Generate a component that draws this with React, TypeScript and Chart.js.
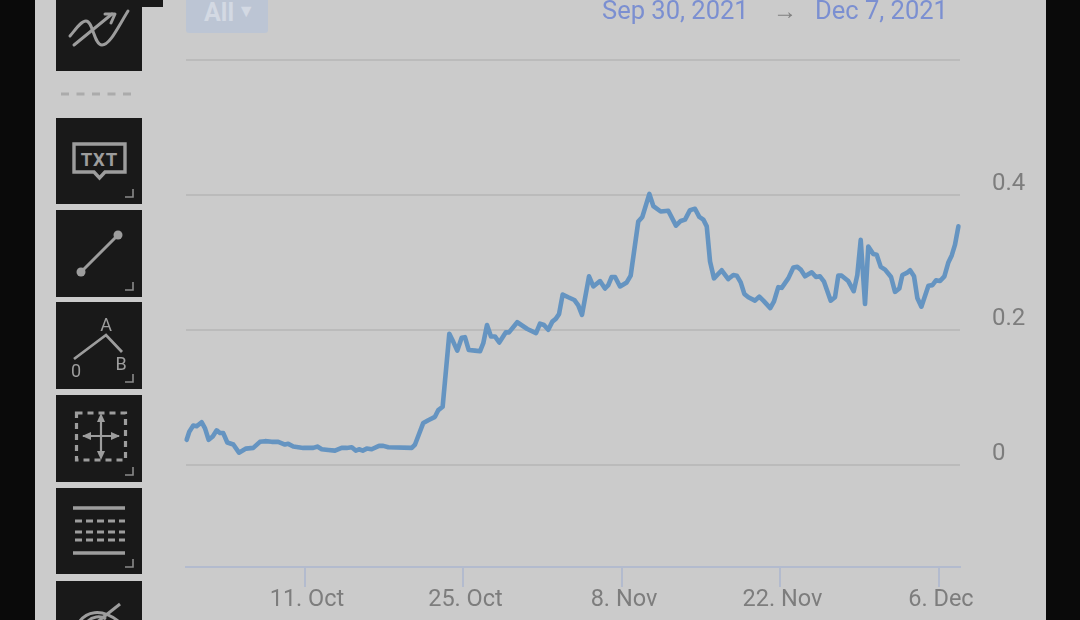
import React, { useEffect, useRef } from "react";
import { Chart, registerables } from "chart.js";

Chart.register(...registerables);

// x positions are days counted from 0 Oct 2021 (11 = 11 Oct, 39 = 8 Nov, 67 = 6 Dec)
const days = [0.55,0.78,1.13,1.43,1.87,2.17,2.49,2.85,3.2,3.49,3.78,4.14,4.67,5.17,5.79,6.43,7.02,7.47,8.06,8.64,9.23,9.52,9.97,10.85,11.73,12.09,12.48,13.06,13.65,14.24,14.68,15.13,15.48,15.77,16.1,16.45,16.89,17.54,17.92,18.36,20.43,20.72,21.45,21.89,22.48,22.78,23.16,23.75,24.1,24.45,24.84,25.13,25.46,26.02,26.46,26.75,27.08,27.43,27.78,28.16,28.73,29.02,29.75,30.64,31.41,31.76,32.11,32.49,32.85,33.15,33.44,33.76,34.26,34.79,35.14,35.47,36.09,36.47,37.06,37.5,37.79,38.09,38.39,38.83,39.42,39.77,40.44,40.8,41.42,41.77,42.42,43.09,43.77,44.19,44.57,45.01,45.45,45.83,46.19,46.49,46.78,47.13,47.81,48.39,48.84,49.14,49.49,49.81,50.17,50.75,51.13,51.49,52.1,52.43,52.81,53.11,53.69,54.14,54.49,54.79,55.17,55.76,56.14,56.49,56.85,57.44,57.82,58.11,58.41,58.99,59.47,59.79,60.09,60.47,60.76,61.2,61.5,61.86,62.24,62.77,63.12,63.5,63.77,64.16,64.45,64.8,65.09,65.45,66.07,66.42,66.74,67.1,67.48,67.84,68.13,68.42,68.72];
const prices = [0.037,0.049,0.058,0.057,0.063,0.054,0.037,0.042,0.051,0.047,0.047,0.033,0.03,0.018,0.024,0.025,0.034,0.035,0.034,0.034,0.03,0.031,0.027,0.025,0.025,0.027,0.023,0.022,0.021,0.025,0.025,0.026,0.021,0.023,0.021,0.024,0.023,0.028,0.028,0.026,0.025,0.03,0.062,0.066,0.071,0.081,0.086,0.194,0.182,0.169,0.188,0.189,0.17,0.169,0.168,0.18,0.207,0.19,0.19,0.181,0.196,0.196,0.211,0.201,0.195,0.209,0.207,0.2,0.212,0.216,0.223,0.252,0.248,0.244,0.236,0.222,0.279,0.264,0.272,0.261,0.266,0.278,0.278,0.264,0.27,0.28,0.36,0.367,0.401,0.383,0.375,0.376,0.354,0.361,0.363,0.377,0.379,0.367,0.363,0.353,0.301,0.276,0.288,0.275,0.281,0.28,0.27,0.253,0.248,0.243,0.249,0.243,0.232,0.242,0.263,0.262,0.276,0.292,0.293,0.289,0.279,0.285,0.278,0.279,0.271,0.243,0.248,0.28,0.28,0.272,0.257,0.281,0.333,0.238,0.323,0.312,0.311,0.293,0.289,0.278,0.256,0.261,0.281,0.284,0.288,0.279,0.247,0.234,0.265,0.266,0.273,0.272,0.279,0.3,0.31,0.326,0.353];
const xTickDays = [11, 25, 39, 53, 67];
const xTickLabels = ["11. Oct", "25. Oct", "8. Nov", "22. Nov", "6. Dec"];
const yTickValues = [0, 0.2, 0.4, 0.6];
const yTickLabels = ["0", "0.2", "0.4", ""];

const FONT = "Roboto, sans-serif";
const ICON = "#9d9d9d";

function Box({ top, height, children }: { top: number; height: number; children?: React.ReactNode }) {
  return (
    <svg width={86} height={height} viewBox={`0 0 86 ${height}`}
      style={{ position: "absolute", left: 56, top, background: "#191919", display: "block" }}>
      {children}
    </svg>
  );
}

const Corner = ({ h }: { h: number }) => (
  <path d={`M69 ${h - 7}H77V${h - 15}`} fill="none" stroke="#8a8a8a" strokeWidth={1.6} />
);

export default function App() {
  const ref = useRef<HTMLCanvasElement>(null);
  useEffect(() => {
    const chart = new Chart(ref.current!, {
      type: "line",
      data: {
        datasets: [{
          data: days.map((d, i) => ({ x: d, y: prices[i] })),
          borderColor: "#6594c1",
          borderWidth: 4.6,
          pointRadius: 0,
          tension: 0,
          borderJoinStyle: "round",
          borderCapStyle: "round",
          clip: false,
        }],
      },
      options: {
        animation: false,
        responsive: false,
        devicePixelRatio: 1,
        events: [],
        layout: { padding: { left: 186, top: 59.5, right: 0, bottom: 0 } },
        plugins: { legend: { display: false }, tooltip: { enabled: false } },
        scales: {
          x: {
            type: "linear",
            min: 0.49,
            max: 68.86,
            afterFit: (s: any) => { s.height = 53; },
            afterBuildTicks: (s: any) => { s.ticks = xTickDays.map((value) => ({ value })); },
            border: { color: "#b3bbce", width: 2 },
            grid: { drawOnChartArea: false, drawTicks: true, tickLength: 20, color: "#b3bbce", lineWidth: 2 },
            ticks: {
              color: "#7d7d7d", font: { family: FONT, size: 23.5 }, padding: -1, maxRotation: 0, autoSkip: false, labelOffset: 2,
              callback: (v: any) => xTickLabels[xTickDays.indexOf(v)] ?? "",
            },
          },
          y: {
            type: "linear",
            position: "right",
            min: -0.1513,
            max: 0.6,
            afterFit: (s: any) => { s.width = 120; },
            afterBuildTicks: (s: any) => { s.ticks = yTickValues.map((value) => ({ value })); },
            border: { display: false },
            grid: { drawTicks: false, color: "#bbbbbb", lineWidth: 2 },
            ticks: {
              color: "#7d7d7d", font: { family: FONT, size: 24 }, padding: 32, crossAlign: "near", labelOffset: -11,
              callback: (v: any) => yTickLabels[yTickValues.indexOf(v)] ?? "",
            },
          },
        },
      },
    });
    return () => chart.destroy();
  }, []);

  return (
    <div style={{ position: "fixed", inset: 0, width: 1080, height: 620, background: "#0a0a0a", overflow: "hidden", fontFamily: FONT }}>
      <div style={{ position: "absolute", left: 35, top: 0, width: 1011, height: 620, background: "#cbcbcb" }} />
      <canvas ref={ref} width={1080} height={620} style={{ position: "absolute", left: 0, top: 0, width: 1080, height: 620 }} />

      {/* range selector */}
      <div style={{ position: "absolute", left: 186, top: -4, width: 82, height: 36.5, background: "#bcc5d4", borderRadius: 3, color: "#d3d9e3", fontSize: 25, fontWeight: 700, lineHeight: "30px", paddingLeft: 18, boxSizing: "border-box", whiteSpace: "nowrap" }}>
        All <span style={{ fontSize: 18, verticalAlign: 4, marginLeft: -3 }}>▼</span>
      </div>
      <div style={{ position: "absolute", left: 602, top: -4, fontSize: 25.5, color: "#7b8fd1", lineHeight: "28px", whiteSpace: "nowrap" }}>Sep 30, 2021</div>
      <div style={{ position: "absolute", left: 773, top: -3, fontSize: 24, color: "#808080", lineHeight: "28px" }}>→</div>
      <div style={{ position: "absolute", left: 815, top: -4, fontSize: 25.5, color: "#7b8fd1", lineHeight: "28px", whiteSpace: "nowrap" }}>Dec 7, 2021</div>

      {/* drawing toolbar */}
      <div style={{ position: "absolute", left: 142, top: 0, width: 21, height: 7, background: "#191919" }} />
      <Box top={-15} height={86}>
        <g fill="none" stroke={ICON} strokeWidth={3} strokeLinecap="round" strokeLinejoin="round">
          <path d="M14 51C20 44 25 36 30 36C37 36 38 60 46 60C54 60 62 42 72 26" />
          <path d="M18 60L56 29" />
          <path d="M49 29H59L55 38" />
        </g>
      </Box>
      <svg width={86} height={6} style={{ position: "absolute", left: 56, top: 91 }}>
        <path d="M5 3H76" stroke="#ababab" strokeWidth={3} strokeDasharray="8 7.5" />
      </svg>
      <Box top={118} height={86}>
        <path d="M18 26H69V54H49L43.5 60L38 54H18Z" fill="none" stroke={ICON} strokeWidth={3.4} />
        <text x={43.5} y={47.5} textAnchor="middle" fill={ICON} fontSize={18.5} fontWeight={700} letterSpacing={1} fontFamily={FONT}>TXT</text>
        <Corner h={86} />
      </Box>
      <Box top={210} height={87}>
        <path d="M25 62L62 25" stroke={ICON} strokeWidth={3} />
        <circle cx={25} cy={62} r={4.5} fill={ICON} />
        <circle cx={62} cy={25} r={4.5} fill={ICON} />
        <Corner h={87} />
      </Box>
      <Box top={302} height={87}>
        <path d="M18 57L50 33L66 50" fill="none" stroke={ICON} strokeWidth={2.8} />
        <text x={50} y={29} textAnchor="middle" fill={ICON} fontSize={18} fontFamily={FONT}>A</text>
        <text x={20} y={75} textAnchor="middle" fill={ICON} fontSize={18} fontFamily={FONT}>0</text>
        <text x={65} y={68} textAnchor="middle" fill={ICON} fontSize={18} fontFamily={FONT}>B</text>
        <Corner h={87} />
      </Box>
      <Box top={395} height={87}>
        <rect x={20.5} y={18} width={49} height={47} fill="none" stroke={ICON} strokeWidth={3.2} strokeDasharray="6 5" />
        <path d="M45 23V60M27 41H63" fill="none" stroke={ICON} strokeWidth={2.2} />
        <g fill={ICON}>
          <path d="M45 18L41 27H49Z" />
          <path d="M45 65L41 56H49Z" />
          <path d="M26 41L35 37V45Z" />
          <path d="M64 41L55 37V45Z" />
        </g>
        <Corner h={87} />
      </Box>
      <Box top={488} height={86}>
        <path d="M17 20H69M17 65H69" stroke={ICON} strokeWidth={3.4} />
        <path d="M19 33H69M19 44H69M19 52H69" stroke={ICON} strokeWidth={3.2} strokeDasharray="7 4" />
        <Corner h={86} />
      </Box>
      <Box top={581} height={45}>
        <g fill="none" stroke={ICON} strokeWidth={3}>
          <path d="M24 40C30 32 44 26 62 40" />
          <path d="M32 40C36 36 44 34 50 38" />
          <path d="M40 42L64 23" />
        </g>
      </Box>
    </div>
  );
}
